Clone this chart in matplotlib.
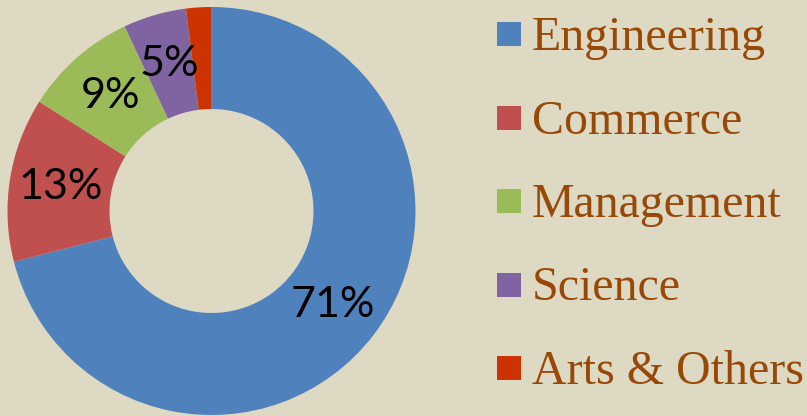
import matplotlib
matplotlib.use('Agg')
import matplotlib.pyplot as plt
from matplotlib.patches import Rectangle

# Data
categories = ['Engineering', 'Commerce', 'Management', 'Science', 'Arts & Others']
shares = [71, 13, 9, 5, 2]
colors = ['#4F81BD', '#C0504D', '#9BBB59', '#8064A2', '#CC3300']

bg = '#DDD9C3'
text_brown = '#984807'

W, H = 807, 416
fig = plt.figure(figsize=(W / 100, H / 100), dpi=100, facecolor=bg)

# Donut axes: centre (211.5, 211) px, radius 204 px
cx, cy, r = 211.5, 211, 204
ax = fig.add_axes([(cx - r) / W, (H - cy - r) / H, 2 * r / W, 2 * r / H])
ax.set_facecolor(bg)


def pct_label(p):
    # smallest slice has no label
    return '%d%%' % round(p) if p >= 3 else ''


wedges, _, autotexts = ax.pie(shares, colors=colors, startangle=90, counterclock=False,
                              wedgeprops=dict(width=0.5, edgecolor='none'),
                              autopct=pct_label, pctdistance=0.75,
                              textprops=dict(fontsize=31, family='Lato', color='black'))
ax.set_xlim(-1, 1)
ax.set_ylim(-1, 1)
ax.set_aspect('equal')
ax.axis('off')

# Legend drawn by hand to match spacing
x_box, x_text = 497, 532
first_base, step = 50, 83.5
box = 24
for i, (name, col) in enumerate(zip(categories, colors)):
    base = first_base + i * step
    fig.patches.append(Rectangle((x_box / W, (H - base + 4) / H), box / W, box / H,
                                 transform=fig.transFigure, facecolor=col, edgecolor='none'))
    fig.text(x_text / W, (H - base) / H, name, fontsize=34.5, family='Liberation Serif',
             color=text_brown, ha='left', va='baseline')

fig.savefig('out.png', dpi=100, facecolor=bg)
